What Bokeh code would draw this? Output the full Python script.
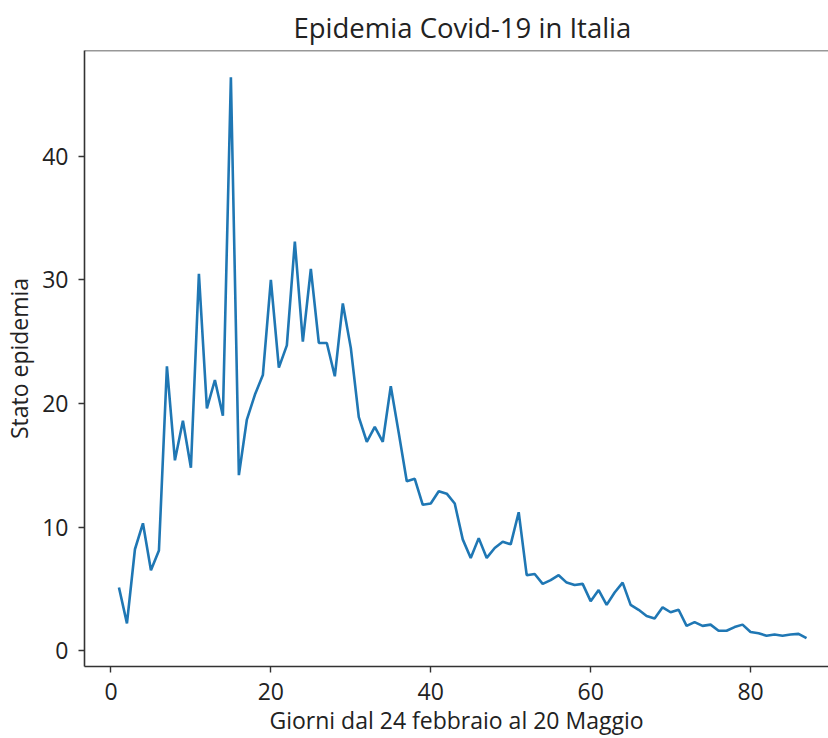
from bokeh.plotting import figure
from bokeh.models import Range1d, Span, FixedTicker
from bokeh.embed import file_html
from bokeh.resources import INLINE

giorni = list(range(1, 88))
stato = [5.1, 2.2, 8.2, 10.3, 6.5, 8.1, 23.0, 15.4, 18.6, 14.8,
         30.5, 19.6, 21.9, 19.0, 46.4, 14.2, 18.7, 20.7, 22.3, 30.0,
         22.9, 24.7, 33.1, 25.0, 30.9, 24.9, 24.9, 22.2, 28.1, 24.5,
         18.9, 16.9, 18.1, 16.9, 21.4, 17.6, 13.7, 13.9, 11.8, 11.9,
         12.9, 12.7, 11.9, 9.0, 7.5, 9.1, 7.5, 8.3, 8.8, 8.6,
         11.2, 6.1, 6.2, 5.4, 5.7, 6.1, 5.5, 5.3, 5.4, 4.0,
         4.9, 3.7, 4.7, 5.5, 3.7, 3.3, 2.8, 2.6, 3.5, 3.1,
         3.3, 2.0, 2.3, 2.0, 2.1, 1.6, 1.6, 1.9, 2.1, 1.5,
         1.4, 1.2, 1.3, 1.2, 1.3, 1.35, 1.0]
x_ticks = [0, 20, 40, 60, 80]
y_ticks = [0, 10, 20, 30, 40]

titolo = "Epidemia Covid-19 in Italia"
x_label = "Giorni dal 24 febbraio al 20 Maggio"
y_label = "Stato epidemia"

FONT = "Open Sans"
TXT = "#222222"

p = figure(width=828, height=738, output_backend="svg", toolbar_location=None,
           x_range=Range1d(-3.31, 89.75), y_range=Range1d(-1.29, 48.57),
           min_border_left=83, min_border_right=0, min_border_top=50, min_border_bottom=71,
           title=titolo)

p.line(giorni, stato, line_color="#1f77b4", line_width=2.6)

p.title.align = "left"
p.title.offset = 209
p.title.text_font = FONT
p.title.text_font_size = "27.5px"
p.title.text_font_style = "normal"
p.title.text_color = TXT

p.grid.visible = False
p.outline_line_color = None
p.background_fill_color = "white"
p.border_fill_color = "white"

top = Span(location=48.57, dimension="width", line_color="#333333", line_width=1.6)
p.add_layout(top)

for ax in (p.xaxis[0], p.yaxis[0]):
    ax.axis_line_color = "#333333"
    ax.axis_line_width = 1.6
    ax.major_tick_line_color = "#333333"
    ax.major_tick_line_width = 1.4
    ax.major_tick_out = 6
    ax.major_tick_in = 0
    ax.minor_tick_line_color = None
    ax.major_label_text_font = FONT
    ax.major_label_text_font_size = "23px"
    ax.major_label_text_color = TXT
    ax.axis_label_text_font = FONT
    ax.axis_label_text_font_size = "23px"
    ax.axis_label_text_font_style = "normal"
    ax.axis_label_text_color = TXT

p.xaxis.ticker = FixedTicker(ticks=x_ticks)
p.yaxis.ticker = FixedTicker(ticks=y_ticks)
p.xaxis.axis_label = x_label
p.yaxis.axis_label = y_label
p.xaxis.major_label_standoff = 10
p.yaxis.major_label_standoff = 10
p.xaxis.axis_label_standoff = 1
p.yaxis.axis_label_standoff = 4

open("out.html", "w").write(file_html(p, INLINE))
